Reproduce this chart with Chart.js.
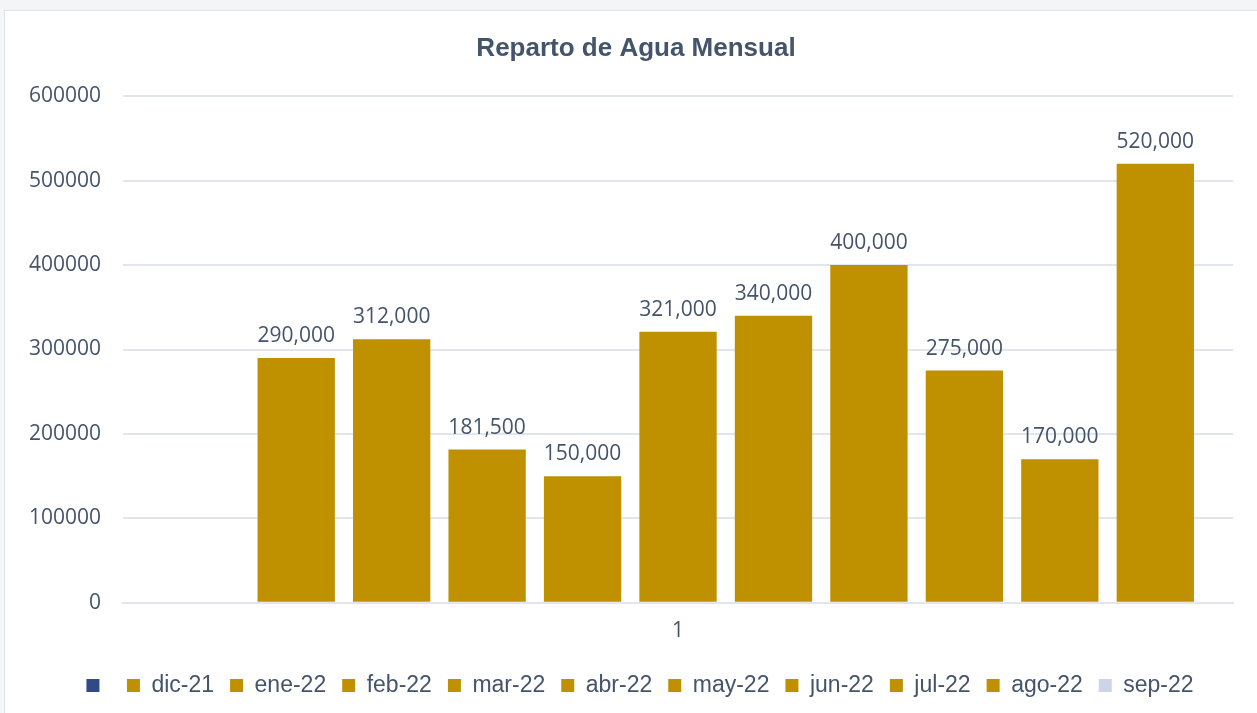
<!DOCTYPE html>
<html>
<head>
<meta charset="utf-8">
<script src="https://cdn.jsdelivr.net/npm/chart.js@4"></script>
<style>
  html, body { margin: 0; padding: 0; background: #f4f5f7; }
  #frame {
    position: absolute; left: 4px; top: 10px;
    width: 1260px; height: 710px;
    background: #ffffff; border: 1px solid #dfe3ea;
  }
  #wrap { position: absolute; left: 0; top: 0; width: 1257px; height: 713px; }
</style>
</head>
<body>
<div id="frame"></div>
<div id="wrap"><canvas id="aguaChart" width="1257" height="713"></canvas></div>
<script>

const categories = ["1"];

const seriesNames = ["", "dic-21", "ene-22", "feb-22", "mar-22", "abr-22",
    "may-22", "jun-22", "jul-22", "ago-22", "sep-22"];

const seriesValues = [null, 290000, 312000, 181500, 150000, 321000,
    340000, 400000, 275000, 170000, 520000];

const yTicks = [0, 100000, 200000, 300000, 400000, 500000, 600000];

const gold = "#BF9000";
const slate = "#44546A";

const swatchColors = ["#2F4A87", gold, gold, gold, gold, gold,
    gold, gold, gold, gold, "#CED4E8"];

const datasets = seriesNames.map((name, i) => ({
    label: name,
    data: [seriesValues[i]],
    backgroundColor: gold,
    borderWidth: 0,
    barPercentage: 0.81,
    categoryPercentage: 0.946
}));

// values written above each bar
const barLabels = {
    id: "barLabels",
    afterDatasetsDraw(chart) {
        const ctx = chart.ctx;
        ctx.save();
        ctx.font = "21px 'Open Sans', sans-serif";
        ctx.fillStyle = slate;
        ctx.textAlign = "center";
        ctx.textBaseline = "alphabetic";
        chart.data.datasets.forEach((ds, i) => {
            const meta = chart.getDatasetMeta(i);
            meta.data.forEach((bar, j) => {
                const v = ds.data[j];
                if (v === null || v === undefined) return;
                ctx.fillText(v.toLocaleString("en-US"), bar.x, bar.y - 16);
            });
        });
        ctx.restore();
    }
};

// title and legend sit a little right of the canvas centre in the original
const boxNudge = {
    id: "boxNudge",
    afterLayout(chart) {
        const lg = chart.legend;
        lg.left += 20;
        lg.right += 20;
        lg.top -= 2;
        lg.bottom -= 2;
        const tt = chart.titleBlock;
        tt.left += 16;
        tt.right += 16;
    }
};

new Chart(document.getElementById("aguaChart"), {
    type: "bar",
    data: {
        labels: categories,
        datasets: datasets
    },
    options: {
        responsive: false,
        animation: false,
        layout: {
            padding: { left: 7, right: 24, top: 0, bottom: 4 }
        },
        plugins: {
            title: {
                display: true,
                text: "Reparto de Agua Mensual",
                color: slate,
                font: { family: "'Liberation Sans', Arial, sans-serif", size: 26, weight: "bold" },
                padding: { top: 33, bottom: 32 }
            },
            legend: {
                position: "bottom",
                labels: {
                    color: slate,
                    font: { family: "'Liberation Sans', Arial, sans-serif", size: 23 },
                    boxWidth: 13,
                    boxHeight: 13,
                    padding: 16,
                    generateLabels(chart) {
                        return chart.data.datasets.map((ds, i) => ({
                            text: ds.label,
                            fillStyle: swatchColors[i],
                            strokeStyle: swatchColors[i],
                            lineWidth: 0,
                            hidden: false,
                            datasetIndex: i,
                            fontColor: slate
                        }));
                    }
                }
            },
            tooltip: { enabled: false }
        },
        scales: {
            x: {
                grid: { display: false, drawTicks: false },
                border: { display: true, color: "#E1E5EC", width: 2 },
                ticks: {
                    color: slate,
                    font: { family: "'Open Sans', sans-serif", size: 21 },
                    padding: 16
                }
            },
            y: {
                min: 0,
                max: 600000,
                afterBuildTicks(axis) {
                    axis.ticks = yTicks.map(v => ({ value: v }));
                },
                grid: { color: "#E1E5EC", lineWidth: 2, drawTicks: false },
                border: { display: false },
                ticks: {
                    color: slate,
                    font: { family: "'Open Sans', sans-serif", size: 21 },
                    padding: 22,
                    callback: v => String(v)
                }
            }
        }
    },
    plugins: [barLabels, boxNudge]
});

</script>
</body>
</html>
